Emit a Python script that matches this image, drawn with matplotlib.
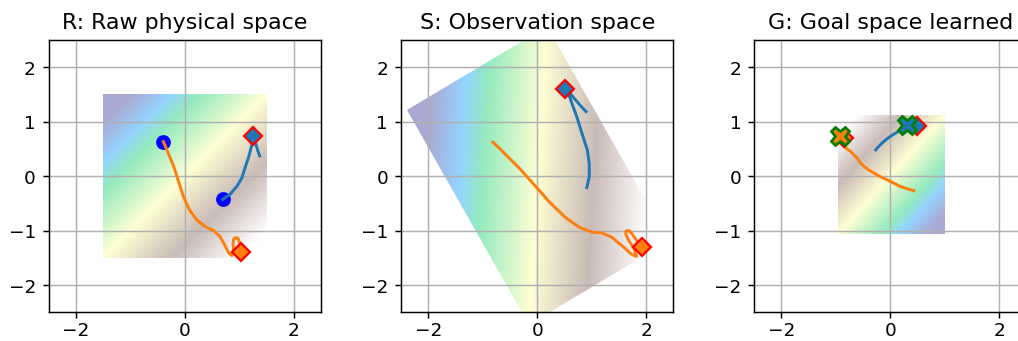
import matplotlib
matplotlib.use("Agg")
import matplotlib.pyplot as plt
import numpy as np
from matplotlib.transforms import Affine2D

DPI = 133

# Two episodes in raw physical space (R)
r_orange_x = [-0.40, -0.35, -0.31, -0.26, -0.21, -0.12, -0.03, 0.08, 0.21, 0.37, 0.52,
              0.64, 0.73, 0.80, 0.86, 0.89, 0.88, 0.89, 0.92, 0.97, 0.99, 1.00, 1.02, 1.03]
r_orange_y = [0.63, 0.52, 0.42, 0.30, 0.18, -0.10, -0.38, -0.62, -0.80, -0.93, -1.00,
              -1.11, -1.27, -1.41, -1.46, -1.36, -1.24, -1.16, -1.13, -1.14, -1.19, -1.27, -1.34, -1.40]
r_blue_x = [0.69, 0.76, 0.83, 0.95, 1.04, 1.11, 1.17, 1.22, 1.25, 1.27, 1.30, 1.34, 1.37]
r_blue_y = [-0.43, -0.38, -0.33, -0.19, -0.04, 0.18, 0.36, 0.55, 0.66, 0.72, 0.58, 0.45, 0.37]

start_x = [-0.40, 0.69]
start_y = [0.63, -0.43]
goal_x = [1.25, 1.03]     # blue, orange
goal_y = [0.74, -1.40]

# Linear map from raw space to observation space (S)
obs_matrix = np.array([[0.855, -0.745],
                       [0.51, 1.31]])

# Same episodes in the learned goal space (G)
g_orange_x = [0.43, 0.30, 0.18, 0.06, -0.06, -0.19, -0.31, -0.41, -0.49, -0.56, -0.61, -0.67, -0.73, -0.80, -0.85, -0.89, -0.91]
g_orange_y = [-0.27, -0.23, -0.19, -0.13, -0.07, -0.01, 0.06, 0.12, 0.18, 0.25, 0.33, 0.39, 0.45, 0.50, 0.55, 0.61, 0.67]
g_blue_x = [-0.27, -0.21, -0.15, -0.08, 0.00, 0.08, 0.15, 0.22, 0.30, 0.38, 0.45]
g_blue_y = [0.48, 0.55, 0.61, 0.67, 0.73, 0.78, 0.82, 0.85, 0.88, 0.90, 0.91]
g_goal_x = [0.48, -0.86]
g_goal_y = [0.91, 0.70]
g_reached_x = [0.31, -0.92]
g_reached_y = [0.94, 0.74]
g_extent = [-0.97, 0.99, -1.07, 1.10]

titles = ["R: Raw physical space", "S: Observation space", "G: Goal space learned"]

BLUE, ORANGE = "#1f77b4", "#ff7f0e"

# background field over the raw square
gx, gy = np.meshgrid(np.linspace(-1.5, 1.5, 200), np.linspace(-1.5, 1.5, 200))
field = gx - gy
img_kw = dict(origin="lower", cmap="terrain", vmin=-2.5, vmax=2.5,
              alpha=0.42, interpolation="bilinear", zorder=0)

fig = plt.figure(figsize=(1018.5 / DPI, 341.5 / DPI), dpi=DPI)
W, H = 1018.0, 341.0
lefts = [48.75, 400.75, 753.75]
axes = [fig.add_axes([l / W, 28.7 / H, 272.5 / W, 272.0 / H]) for l in lefts]


def to_obs(xs, ys):
    pts = obs_matrix @ np.vstack([xs, ys])
    return pts[0], pts[1]


# ---- R ----
ax = axes[0]
ax.imshow(field, extent=(-1.5, 1.5, -1.5, 1.5), **img_kw)
ax.plot(start_x, start_y, "o", color="blue", ms=7, zorder=2)
ax.plot(r_blue_x, r_blue_y, color=BLUE, lw=1.6, zorder=3)
ax.plot(r_orange_x, r_orange_y, color=ORANGE, lw=1.6, zorder=3)
for gxv, gyv, c in zip(goal_x, goal_y, [BLUE, ORANGE]):
    ax.plot(gxv, gyv, "D", mfc=c, mec="red", mew=1.2, ms=7, zorder=4)

# ---- S ----
ax = axes[1]
im = ax.imshow(field, extent=(-1.5, 1.5, -1.5, 1.5), **img_kw)
aff = np.eye(3)
aff[:2, :2] = obs_matrix
im.set_transform(Affine2D(aff) + ax.transData)
sx, sy = to_obs(r_blue_x, r_blue_y)
ax.plot(sx, sy, color=BLUE, lw=1.6, zorder=3)
sx, sy = to_obs(r_orange_x, r_orange_y)
ax.plot(sx, sy, color=ORANGE, lw=1.6, zorder=3)
sgx, sgy = to_obs(goal_x, goal_y)
for gxv, gyv, c in zip(sgx, sgy, [BLUE, ORANGE]):
    ax.plot(gxv, gyv, "D", mfc=c, mec="red", mew=1.2, ms=7, zorder=4)

# ---- G ----
ax = axes[2]
ax.imshow(field[::-1, ::-1], extent=g_extent, **img_kw)
ax.plot(g_blue_x, g_blue_y, color=BLUE, lw=1.6, zorder=3)
ax.plot(g_orange_x, g_orange_y, color=ORANGE, lw=1.6, zorder=3)
for i, c in enumerate([BLUE, ORANGE]):
    ax.plot(g_goal_x[i], g_goal_y[i], "D", mfc=c, mec="red", mew=1.2, ms=7, zorder=4)
    ax.plot(g_reached_x[i], g_reached_y[i], "X", mfc=c, mec="green", mew=1.5, ms=10, zorder=5)

for ax, t in zip(axes, titles):
    ax.set_xlim(-2.5, 2.5)
    ax.set_ylim(-2.5, 2.5)
    ax.set_aspect("equal")
    ax.set_xticks([-2, 0, 2])
    ax.set_yticks([-2, -1, 0, 1, 2])
    ax.tick_params(axis="x", pad=1.5)
    ax.grid(True)
    ax.set_title(t)

fig.savefig("out.png", dpi=DPI)
